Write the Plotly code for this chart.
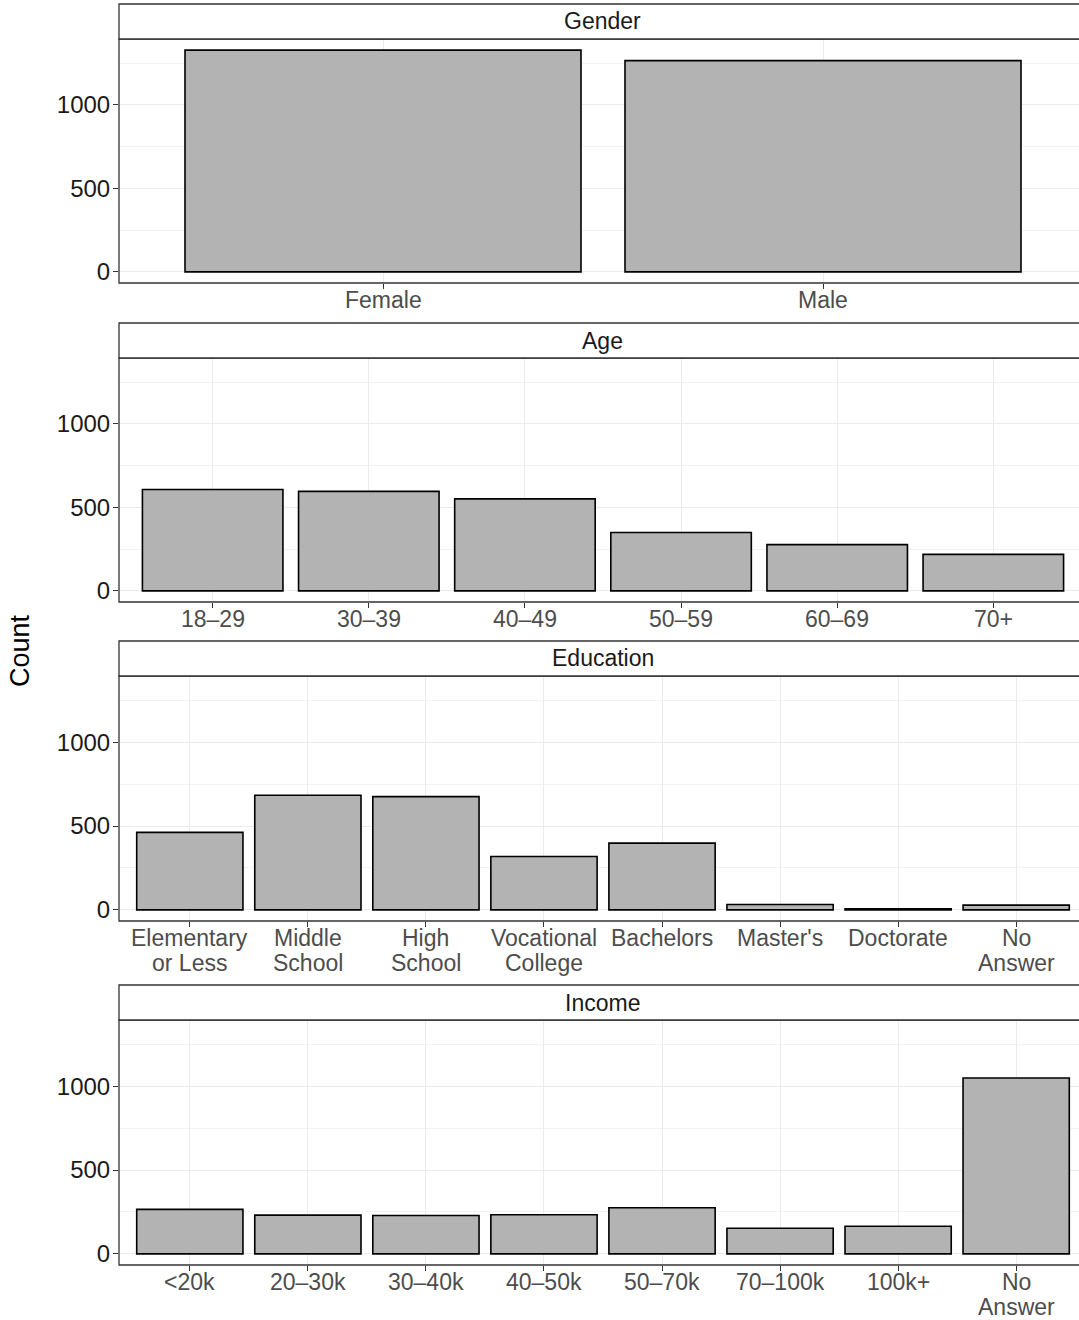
import plotly.graph_objects as go

# ---- data ----
gender_labels = ["Female", "Male"]
gender_counts = [1328, 1265]

age_labels = ["18–29", "30–39", "40–49", "50–59", "60–69", "70+"]
age_counts = [607, 596, 551, 350, 277, 219]

edu_labels = ["Elementary<br>or Less", "Middle<br>School", "High<br>School",
              "Vocational<br>College", "Bachelors", "Master's", "Doctorate", "No<br>Answer"]
edu_counts = [462, 683, 675, 318, 398, 32, 6, 28]

income_labels = ["<20k", "20–30k", "30–40k", "40–50k", "50–70k", "70–100k", "100k+", "No<br>Answer"]
income_counts = [265, 231, 229, 233, 275, 153, 165, 1049]

facet_titles = ["Gender", "Age", "Education", "Income"]
y_ticks = [0, 500, 1000]

panels = [(gender_labels, gender_counts), (age_labels, age_counts),
          (edu_labels, edu_counts), (income_labels, income_counts)]

# ---- layout geometry (pixels) ----
W, H = 1079, 1320
X0 = 119          # left edge of panels
X1_FULL = 1087    # panels run slightly past the right edge of the picture
X1 = 1079
plot_px = [(39, 283), (358, 602), (676, 921), (1020, 1265)]
strip_px = [(4, 39), (323, 358), (641, 676), (985, 1020)]
LABEL_OFFSET = 17   # first line centre below the panel
LINE_STEP = 25      # spacing between label lines

def px_x(p):
    return p / W

def px_y(p):
    return 1 - p / H

ymax = max(max(c) for _, c in panels)
yrange = [-0.05 * ymax, 1.05 * ymax]

FONT = "Liberation Sans, Arial, Helvetica, sans-serif"
fig = go.Figure()
shapes = []
annotations = []

for i, ((labels, counts), title) in enumerate(zip(panels, facet_titles)):
    n = i + 1
    xa = "x" if n == 1 else f"x{n}"
    ya = "y" if n == 1 else f"y{n}"
    fig.add_trace(go.Bar(
        x=labels, y=counts, xaxis=xa, yaxis=ya,
        marker=dict(color="#B3B3B3", line=dict(color="black", width=1.6)),
        width=0.9, showlegend=False, hoverinfo="x+y"))
    top, bot = plot_px[i]
    xkey = "xaxis" if n == 1 else f"xaxis{n}"
    ykey = "yaxis" if n == 1 else f"yaxis{n}"
    unit = (X1_FULL - X0) / (len(labels) + 0.2)
    xr_right = -0.6 + (X1 - X0) / unit
    fig.layout[xkey] = dict(
        domain=[px_x(X0), px_x(X1)], anchor=ya, type="category",
        categoryorder="array", categoryarray=labels,
        range=[-0.6, xr_right], automargin=False,
        showgrid=True, gridcolor="#EBEBEB", gridwidth=1.2,
        ticks="outside", ticklen=5, tickcolor="#333333", tickwidth=1.2,
        showticklabels=False,
        showline=False, zeroline=False, fixedrange=True)
    fig.layout[ykey] = dict(
        domain=[px_y(bot), px_y(top)], anchor=xa,
        range=yrange, tickvals=y_ticks, automargin=False,
        showgrid=True, gridcolor="#EBEBEB", gridwidth=1.2,
        minor=dict(tickvals=[250, 750, 1250], showgrid=True,
                   gridcolor="#F2F2F2", gridwidth=0.8, ticks=""),
        ticks="outside", ticklen=5, tickcolor="#333333", tickwidth=1.2,
        ticklabelstandoff=-2,
        tickfont=dict(family=FONT, size=24, color="#1A1A1A"),
        showline=False, zeroline=False, fixedrange=True)
    # category labels under each panel (one text per line for tight spacing)
    for lab in labels:
        for k, line in enumerate(lab.split("<br>")):
            annotations.append(dict(
                text=line, xref=xa, yref="paper", x=lab,
                y=px_y(bot + LABEL_OFFSET + k * LINE_STEP),
                xanchor="center", yanchor="middle", showarrow=False,
                font=dict(family=FONT, size=23, color="#4D4D4D")))
    # panel border
    shapes.append(dict(type="rect", xref="paper", yref="paper",
                       x0=px_x(X0), x1=px_x(X1_FULL), y0=px_y(bot), y1=px_y(top),
                       line=dict(color="#333333", width=1.3), fillcolor="rgba(0,0,0,0)",
                       layer="above"))
    # strip
    s0, s1 = strip_px[i]
    shapes.append(dict(type="rect", xref="paper", yref="paper",
                       x0=px_x(X0), x1=px_x(X1_FULL), y0=px_y(s1), y1=px_y(s0),
                       line=dict(color="#333333", width=1.3), fillcolor="white",
                       layer="above"))
    annotations.append(dict(text=title, xref="paper", yref="paper",
                            x=px_x((X0 + X1_FULL) / 2), y=px_y((s0 + s1) / 2),
                            xanchor="center", yanchor="middle", showarrow=False,
                            font=dict(family=FONT, size=23, color="#1A1A1A")))

annotations.append(dict(text="Count", xref="paper", yref="paper",
                        x=px_x(20), y=px_y(651), textangle=-90,
                        xanchor="center", yanchor="middle", showarrow=False,
                        font=dict(family=FONT, size=27, color="black")))

fig.update_layout(
    width=W, height=H, autosize=False,
    margin=dict(l=0, r=0, t=0, b=0, pad=0, autoexpand=False),
    paper_bgcolor="white", plot_bgcolor="white",
    bargap=0.1, showlegend=False,
    shapes=shapes, annotations=annotations,
    font=dict(family=FONT))

css_fix = (
    "var s=document.createElement('style');"
    "s.textContent='html,body{margin:0!important;padding:0!important;}';"
    "document.head.appendChild(s);"
)
fig.write_html("out.html", config={"displayModeBar": False}, post_script=css_fix)
